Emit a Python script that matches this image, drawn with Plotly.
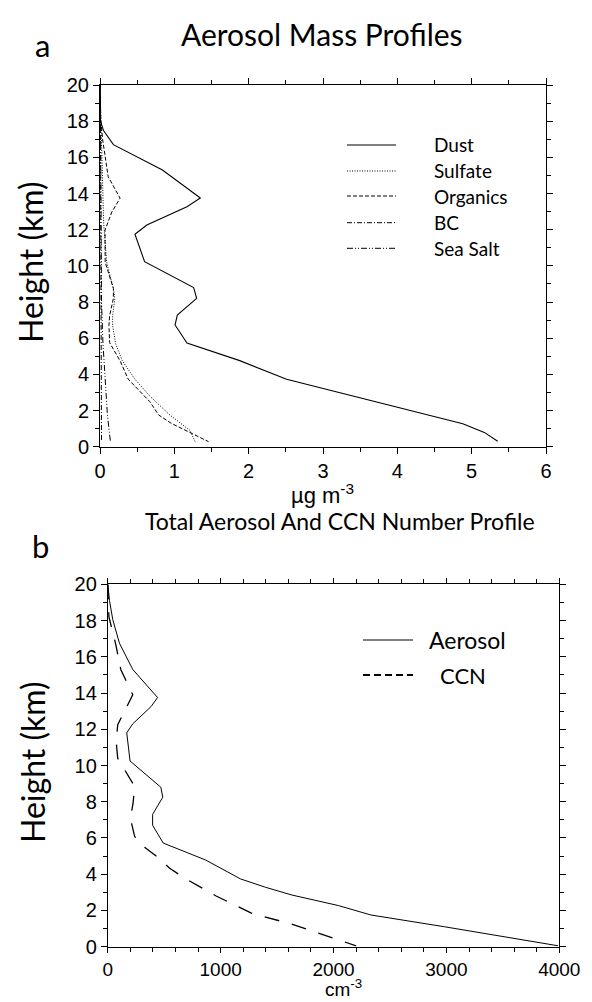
import plotly.graph_objects as go

W, H = 592, 1002

# ---------------- Panel a data (µg m-3 vs km) ----------------
dust_h = [20, 18.1, 17.5, 16.7, 15.3, 13.75, 13.27, 12.26, 11.75, 10.23, 8.8, 8.2, 7.28, 6.73, 5.73, 4.76, 3.73, 1.27, 0.79, 0.3]
dust_v = [0.0, 0.0, 0.045, 0.18, 0.84, 1.35, 1.17, 0.63, 0.47, 0.6, 1.26, 1.3, 1.04, 1.01, 1.17, 1.88, 2.51, 4.88, 5.17, 5.35]

sulf_h = [20, 18.1, 17.0, 15.3, 13.75, 12.3, 11.8, 10.2, 8.75, 8.2, 7.25, 6.7, 5.7, 4.75, 3.73, 2.8, 1.75, 0.9, 0.28]
sulf_v = [0.0, 0.01, 0.02, 0.03, 0.04, 0.05, 0.06, 0.09, 0.18, 0.2, 0.17, 0.17, 0.21, 0.3, 0.47, 0.67, 0.94, 1.21, 1.28]

org_h = [20, 18.1, 16.96, 14.93, 13.74, 12.98, 11.97, 10.2, 8.75, 8.2, 7.25, 6.7, 5.75, 4.75, 3.73, 2.49, 1.75, 1.29, 0.28]
org_v = [0.0, 0.01, 0.036, 0.11, 0.27, 0.16, 0.067, 0.07, 0.18, 0.18, 0.13, 0.12, 0.13, 0.27, 0.38, 0.67, 0.79, 0.96, 1.46]

bc_h = [20, 10, 5, 0.28]
bc_v = [0.005, 0.01, 0.015, 0.02]

salt_h = [20, 12, 8, 5.7, 3.7, 1.75, 0.28]
salt_v = [0.005, 0.01, 0.02, 0.04, 0.07, 0.1, 0.14]

# ---------------- Panel b data (cm-3 vs km) ----------------
aer_h = [20, 19.1, 18.05, 16.75, 15.3, 13.75, 13.25, 12.3, 11.8, 10.25, 8.8, 8.25, 7.3, 6.7, 5.72, 4.78, 3.74, 3.28, 2.85, 2.27, 1.75, 1.1, 0.05]
aer_v = [0, 15, 44, 103, 221, 441, 383, 221, 168, 197, 470, 487, 397, 397, 491, 868, 1176, 1397, 1632, 2043, 2331, 2984, 3990]

ccn_h = [20, 18.2, 16.7, 15.3, 13.9, 12.98, 12.25, 11.33, 10.4, 8.84, 7.92, 7.09, 6.08, 5.49, 4.88, 4.33, 3.75, 2.8, 1.85, 1.25, 0.05]
ccn_v = [0, 10, 70, 115, 221, 147, 88, 74, 88, 238, 224, 200, 238, 326, 453, 548, 690, 960, 1272, 1626, 2200]

mass_names = ["Dust", "Sulfate", "Organics", "BC", "Sea Salt"]
num_names = ["Aerosol", "CCN"]

TITLE_FONT = "Lato, Liberation Sans"
TICK_FONT = "Liberation Sans, Arial"

styles_a = [
    dict(width=1.1, dash="solid"),
    dict(width=1, dash="1px,1.5px"),
    dict(width=1, dash="4px,2px"),
    dict(width=1, dash="5px,2px,1px,2px"),
    dict(width=1, dash="6px,2px,1px,2px,1px,2px"),
]

fig = go.Figure()
series_a = [(dust_v, dust_h), (sulf_v, sulf_h), (org_v, org_h), (bc_v, bc_h), (salt_v, salt_h)]
for (xv, yv), name, st in zip(series_a, mass_names, styles_a):
    fig.add_trace(go.Scatter(x=xv, y=yv, mode="lines", name=name,
                             line=dict(color="black", **st),
                             xaxis="x", yaxis="y", showlegend=False))

fig.add_trace(go.Scatter(x=aer_v, y=aer_h, mode="lines", name=num_names[0],
                         line=dict(color="black", width=1), xaxis="x2", yaxis="y2", showlegend=False))
fig.add_trace(go.Scatter(x=ccn_v, y=ccn_h, mode="lines", name=num_names[1],
                         line=dict(color="black", width=1.3, dash="15px,13px"),
                         xaxis="x2", yaxis="y2", showlegend=False))

def px_x(p):
    return p / W

def px_y(p):
    return 1 - p / H

def axis_style(size=20, ticklen=6):
    return dict(showline=True, linecolor="black", linewidth=1, mirror="ticks",
                ticks="outside", ticklen=ticklen, tickcolor="black", tickwidth=1,
                showgrid=False, zeroline=False, automargin=False,
                tickfont=dict(family=TICK_FONT, size=size, color="black"))

fig.update_layout(
    width=W, height=H,
    margin=dict(l=0, r=0, t=0, b=0, autoexpand=False),
    paper_bgcolor="white", plot_bgcolor="white",
    xaxis=dict(domain=[px_x(100), px_x(546)], range=[0, 6], dtick=1, tick0=0,
               anchor="y", minor=dict(dtick=0.5, ticklen=4, ticks="outside", tickcolor="black"), **axis_style()),
    yaxis=dict(domain=[px_y(446.7), px_y(85)], range=[0, 20], dtick=2, tick0=0,
               anchor="x", minor=dict(dtick=1, ticklen=4, ticks="outside", tickcolor="black"), **axis_style()),
    xaxis2=dict(domain=[px_x(107.8), px_x(559.3)], range=[0, 4000], dtick=1000, tick0=0,
                anchor="y2", minor=dict(dtick=200, ticklen=4, ticks="outside", tickcolor="black"), **axis_style(19, 5)),
    yaxis2=dict(domain=[px_y(946.7), px_y(584.3)], range=[0, 20], dtick=2, tick0=0,
                anchor="x2", minor=dict(dtick=1, ticklen=4, ticks="outside", tickcolor="black"), **axis_style()),
)

ann = []
def text(x, y, s, size, family=TITLE_FONT, xanchor="center", yanchor="middle", angle=0):
    ann.append(dict(x=px_x(x), y=px_y(y), xref="paper", yref="paper", text=s, showarrow=False,
                    xanchor=xanchor, yanchor=yanchor, textangle=angle,
                    font=dict(family=family, size=size, color="black")))

text(322, 34, "Aerosol Mass Profiles", 30)
text(42, 45, "a", 31)
text(30, 262, "Height (km)", 32, angle=-90)
text(322, 478, "µg m<sup>-3</sup>", 22, family=TICK_FONT, yanchor="top")

text(340, 521, "Total Aerosol And CCN Number Profile", 23)
text(40, 546, "b", 31)
text(32, 762, "Height (km)", 32, angle=-90)
text(343, 1002, "cm<sup>-3</sup>", 19, family=TICK_FONT, yanchor="bottom")

# legend panel a
shapes = []
rows_a = [145, 171, 196, 222.7, 248.3]
for name, st, yy in zip(mass_names, styles_a, rows_a):
    shapes.append(dict(type="line", xref="paper", yref="paper", x0=px_x(347), x1=px_x(396),
                       y0=px_y(yy), y1=px_y(yy), line=dict(color="black" if name != "Dust" else "#555555",
                                                            width=st["width"] if name != "Dust" else 1.5,
                                                            dash=st["dash"])))
    text(432, yy, name, 19, xanchor="left")

# legend panel b
shapes.append(dict(type="line", xref="paper", yref="paper", x0=px_x(363), x1=px_x(413),
                   y0=px_y(640), y1=px_y(640), line=dict(color="#555555", width=1.5)))
text(427, 640, "Aerosol", 23, xanchor="left")
shapes.append(dict(type="line", xref="paper", yref="paper", x0=px_x(363), x1=px_x(413),
                   y0=px_y(675), y1=px_y(675), line=dict(color="black", width=2, dash="7px,4px")))
text(438, 675, "CCN", 22, xanchor="left")

fig.update_layout(annotations=ann, shapes=shapes)

fig.write_html("out.html")
